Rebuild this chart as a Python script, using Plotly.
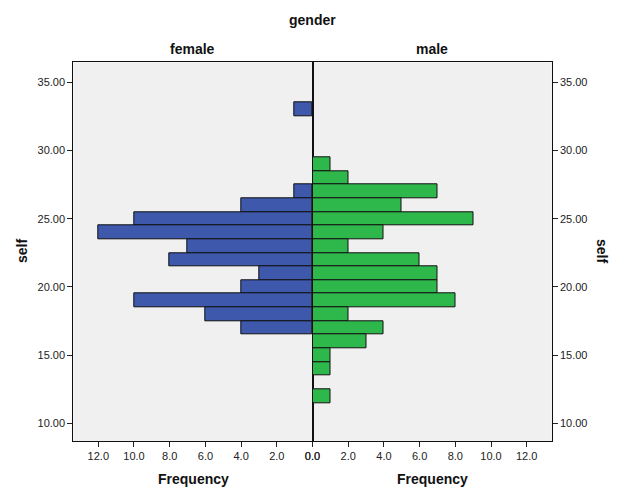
import plotly.graph_objects as go

# Data: bin centres of "self" and frequencies per gender
self_bins = [33, 32, 31, 30, 29, 28, 27, 26, 25, 24, 23, 22, 21, 20, 19, 18, 17, 16, 15, 14, 13, 12]
female_freq = [1, 0, 0, 0, 0, 0, 1, 4, 10, 12, 7, 8, 3, 4, 10, 6, 4, 0, 0, 0, 0, 0]
male_freq = [0, 0, 0, 0, 1, 2, 7, 5, 9, 4, 2, 6, 7, 7, 8, 2, 4, 3, 1, 1, 0, 1]
y_ticks = [10, 15, 20, 25, 30, 35]
x_ticks = [0, 2, 4, 6, 8, 10, 12]

# page body has an 8px margin; figure sized to fit inside the window
OFF = 8
W, H = 610, 485
L, R, M = 73.3, 551.7, 312.5
T, B = 62.3, 441

def fx(px):
    return (px - OFF) / W

def fy(py):
    return 1 - (py - OFF) / H

font_fam = "Liberation Sans, Arial, sans-serif"
blue = "#3e58ab"
green = "#2eb84b"
bg = "#f0f0f0"

fy_bins = [b for b, v in zip(self_bins, female_freq) if v > 0]
fv = [v for v in female_freq if v > 0]
my_bins = [b for b, v in zip(self_bins, male_freq) if v > 0]
mv = [v for v in male_freq if v > 0]

fig = go.Figure()
fig.add_trace(go.Bar(
    x=fv, y=fy_bins, orientation="h", width=1,
    marker=dict(color=blue, line=dict(color="#111111", width=1)),
    xaxis="x", yaxis="y", showlegend=False, name="female"))
fig.add_trace(go.Bar(
    x=mv, y=my_bins, orientation="h", width=1,
    marker=dict(color=green, line=dict(color="#111111", width=1)),
    xaxis="x2", yaxis="y2", showlegend=False, name="male"))

tickfont = dict(family=font_fam, size=11, color="#222222")
yr = [8.72, 36.45]

common = dict(ticks="outside", ticklen=5, tickcolor="#222", showline=True,
              linecolor="#111", linewidth=1, mirror=True, showgrid=False,
              zeroline=False, tickfont=tickfont, automargin=False)

fig.update_layout(
    width=W, height=H,
    margin=dict(l=0, r=0, t=0, b=0, pad=0),
    paper_bgcolor="white",
    plot_bgcolor=bg,
    bargap=0,
    xaxis=dict(domain=[fx(L), fx(M)], range=[13.4, 0], tickvals=x_ticks,
               tickformat=".1f", anchor="y", **common),
    xaxis2=dict(domain=[fx(M), fx(R)], range=[0, 13.4], tickvals=x_ticks,
                tickformat=".1f", anchor="y2", **common),
    yaxis=dict(domain=[fy(B), fy(T)], range=yr, tickvals=y_ticks, tickformat=".2f",
               anchor="x", **common),
    yaxis2=dict(domain=[fy(B), fy(T)], range=yr, tickvals=y_ticks, tickformat=".2f",
                side="right", anchor="x2", matches="y", **common),
)

bold = dict(family=font_fam, size=14, color="#111111")
ann = [
    dict(text="<b>gender</b>", x=fx((L + R) / 2), y=fy(20)),
    dict(text="<b>female</b>", x=fx((L + M) / 2), y=fy(49)),
    dict(text="<b>male</b>", x=fx((M + R) / 2), y=fy(49)),
    dict(text="<b>Frequency</b>", x=fx(193), y=fy(479)),
    dict(text="<b>Frequency</b>", x=fx(432), y=fy(479)),
    dict(text="<b>self</b>", x=fx(22), y=fy(251), textangle=-90),
    dict(text="<b>self</b>", x=fx(602), y=fy(251), textangle=90),
]
for a in ann:
    fig.add_annotation(xref="paper", yref="paper", showarrow=False,
                       xanchor="center", yanchor="middle", font=bold, **a)

fig.write_html("out.html")
